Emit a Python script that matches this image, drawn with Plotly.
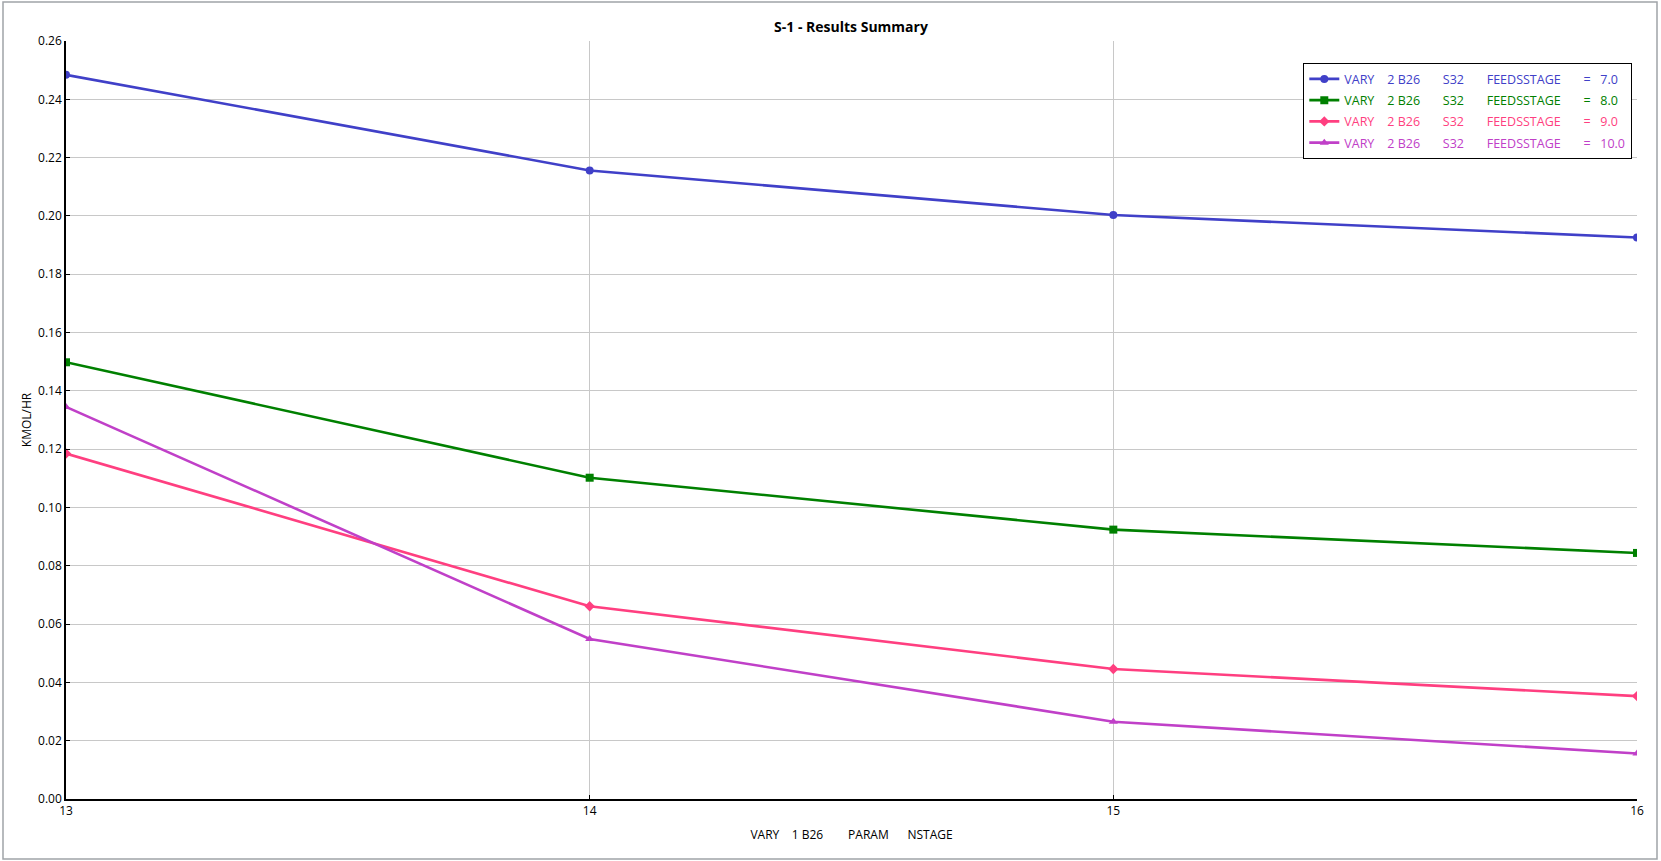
import plotly.graph_objects as go

nstage = [13, 14, 15, 16]
feed7 = [0.2484, 0.2156, 0.2003, 0.1926]
feed8 = [0.1498, 0.1102, 0.0924, 0.0844]
feed9 = [0.1185, 0.0661, 0.0446, 0.0353]
feed10 = [0.1345, 0.0549, 0.0265, 0.0156]
feed_labels = ["7.0", "8.0", "9.0", "10.0"]
colors = ["#4040C8", "#008000", "#FF3F80", "#C040C8"]
symbols = ["circle", "square", "diamond", "triangle-up"]

NB = "\u00a0"

def legend_name(val, col):
    txt = ("VARY" + NB * 4 + "2 B26" + NB * 7 + "S32" + NB * 7 + "FEEDSSTAGE"
           + NB * 7 + "=" + NB * 3 + val)
    return f"<span style='color:{col}'>{txt}</span>"

fig = go.Figure()
for i, (ys, lab, col, sym) in enumerate(zip([feed7, feed8, feed9, feed10], feed_labels, colors, symbols)):
    fig.add_trace(go.Scatter(
        x=nstage, y=ys, mode="lines+markers",
        name=legend_name(lab, col), legendgroup=f"g{i}",
        line=dict(color=col, width=2.6),
        marker=dict(symbol=sym, size=8, color=col),
    ))

fig.update_layout(
    width=1661, height=861,
    margin=dict(l=66, r=24, t=41, b=62),
    paper_bgcolor="white", plot_bgcolor="white",
    font=dict(family="Open Sans, Noto Sans, sans-serif", size=12, color="#000"),
    title=dict(text="<b>S-1 - Results Summary</b>", x=851 / 1661, xanchor="center",
               y=1 - 27 / 861, yanchor="middle", font=dict(size=14, color="#000")),
    showlegend=True,
    legend=dict(x=(1635 - 66 - 3) / 1571, xanchor="right", y=0.971, yanchor="top",
                bgcolor="white", bordercolor="#000", borderwidth=1.3,
                font=dict(size=12.5), itemwidth=30, tracegroupgap=2),
    xaxis=dict(range=[13, 16], dtick=1, tick0=13, showgrid=True, gridcolor="#C8C8C8",
               gridwidth=1, showline=True, linecolor="#000", linewidth=1.5,
               ticks="inside", ticklen=4, tickcolor="#000", zeroline=False,
               title=dict(text="VARY" + NB * 4 + "1 B26" + NB * 8 + "PARAM" + NB * 6 + "NSTAGE",
                          font=dict(size=12), standoff=12)),
    yaxis=dict(range=[0, 0.26], dtick=0.02, tick0=0, tickformat=".2f", showgrid=True,
               gridcolor="#C8C8C8", gridwidth=1, showline=True, linecolor="#000",
               linewidth=1.5, ticks="inside", ticklen=4, tickcolor="#000", zeroline=False,
               title=dict(text="KMOL/HR", font=dict(size=12), standoff=4)),
)

# outer frame
fig.add_shape(type="rect", xref="paper", yref="paper",
              x0=(3 - 66) / 1571, x1=(1657 - 66) / 1571,
              y0=(799 - 859) / 758, y1=(799 - 2) / 758,
              line=dict(color="#A0A4A8", width=1.5), fillcolor="rgba(0,0,0,0)", layer="below")

fig.write_html("out.html", config={"displayModeBar": False},
               post_script="document.body.style.margin='0';document.body.style.overflow='hidden';")
